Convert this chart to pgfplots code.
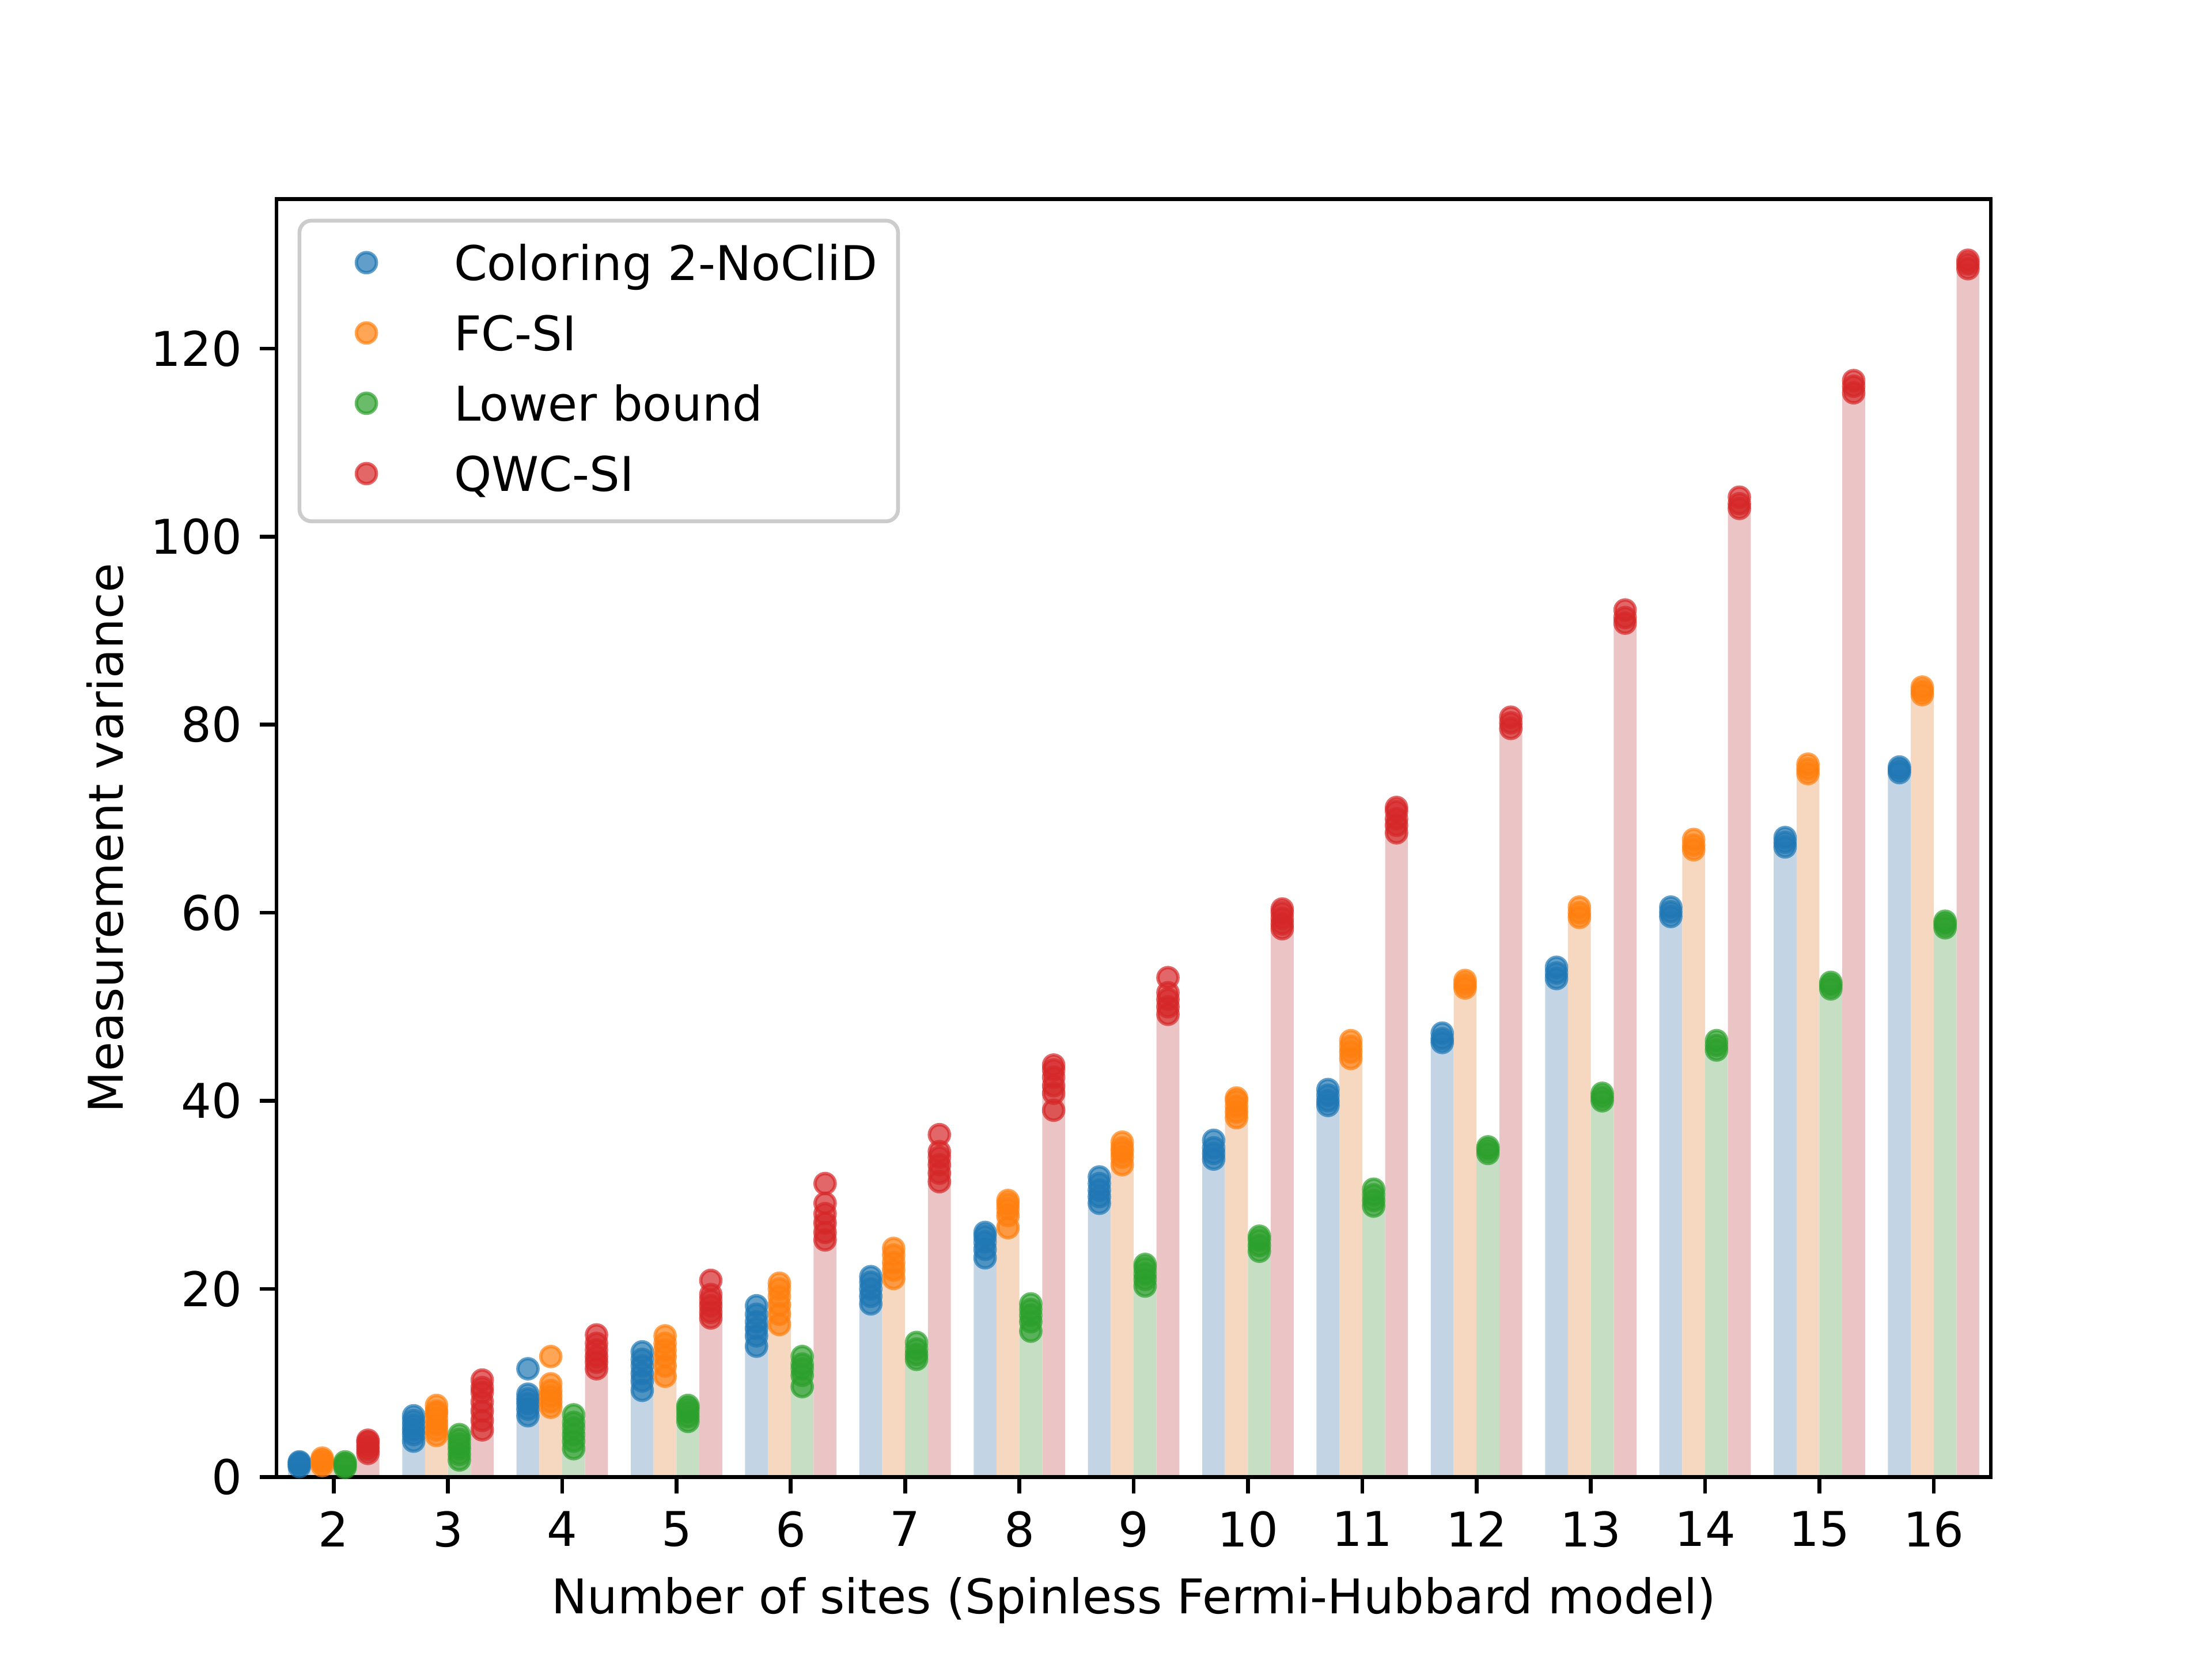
\documentclass[border=0pt]{standalone}
\usepackage{pgfplots}
\pgfplotsset{compat=1.18}
\usepackage{pgfplotstable}
\usepackage{fontspec}
\setmainfont{DejaVu Sans}
\definecolor{tabblue}{HTML}{1F77B4}
\definecolor{taborange}{HTML}{FF7F0E}
\definecolor{tabgreen}{HTML}{2CA02C}
\definecolor{tabred}{HTML}{D62728}
\definecolor{barblue}{HTML}{C3D5E4}
\definecolor{barorange}{HTML}{F6D8C0}
\definecolor{bargreen}{HTML}{C5DEC4}
\definecolor{barred}{HTML}{EBC5C5}

% bar heights (mean of trials)
\pgfplotstableread{
n blue orange green red
2 1.4 1.6 1.3 3.3
3 5.2 6.1 3.2 7.8
4 8.35 9.3 4.8 13.2
5 11.3 13.0 6.8 18.6
6 16.1 18.6 11.3 27.8
7 19.9 22.8 13.4 33.7
8 24.8 28.2 17.1 41.8
9 30.5 34.5 21.5 50.9
10 34.75 39.3 24.9 59.4
11 40.3 45.5 29.7 70.0
12 46.7 52.4 34.8 80.2
13 53.6 60.0 40.4 91.5
14 60.1 67.2 45.9 103.6
15 67.5 75.3 52.3 116.0
16 75.2 83.6 58.8 129.0
}\bars

\pgfplotstableread{
n v
2 1.1
2 1.3
2 1.5
2 1.6
3 3.8
3 4.5
3 5.0
3 5.5
3 6.0
3 6.5
4 6.5
4 7.2
4 7.8
4 8.3
4 8.8
4 11.5
5 9.2
5 10.2
5 11.0
5 11.8
5 12.5
5 13.3
6 13.9
6 15.0
6 15.8
6 16.5
6 17.3
6 18.2
7 18.4
7 19.2
7 20.0
7 20.7
7 21.3
8 23.3
8 24.2
8 25.0
8 25.6
8 26.0
9 29.1
9 29.8
9 30.5
9 31.2
9 31.9
10 33.8
10 34.4
10 35.0
10 35.8
11 39.5
11 40.0
11 40.6
11 41.2
12 46.2
12 46.6
12 47.2
13 53.0
13 53.6
13 54.2
14 59.6
14 60.1
14 60.6
15 67.0
15 67.5
15 68.0
16 74.9
16 75.2
16 75.5
}\ptsblue

\pgfplotstableread{
n v
2 1.2
2 1.5
2 1.8
2 2.0
3 4.4
3 5.0
3 5.6
3 6.2
3 6.8
3 7.0
3 7.6
4 7.4
4 8.0
4 8.6
4 9.2
4 9.9
4 12.8
5 10.7
5 11.8
5 12.8
5 13.5
5 14.2
5 15.0
6 16.2
6 17.3
6 18.3
6 19.2
6 20.0
6 20.6
7 21.1
7 22.0
7 22.8
7 23.6
7 24.3
8 26.5
8 27.8
8 28.5
8 29.0
8 29.4
9 33.2
9 34.0
9 34.6
9 35.0
9 35.6
10 38.2
10 38.8
10 39.4
10 40.0
10 40.3
11 44.5
11 45.2
11 45.8
11 46.4
12 52.0
12 52.4
12 52.8
13 59.5
13 60.0
13 60.6
14 66.7
14 67.2
14 67.8
15 74.8
15 75.3
15 75.8
16 83.2
16 83.6
16 84.0
}\ptsorange

\pgfplotstableread{
n v
2 1.0
2 1.2
2 1.4
2 1.6
3 1.8
3 2.4
3 3.0
3 3.5
3 4.0
3 4.5
4 3.0
4 3.8
4 4.5
4 5.2
4 5.8
4 6.6
5 5.9
5 6.4
5 6.9
5 7.3
5 7.6
6 9.6
6 10.8
6 11.5
6 12.0
6 12.8
7 12.5
7 13.0
7 13.6
7 14.3
8 15.5
8 16.5
8 17.2
8 17.8
8 18.4
9 20.3
9 21.0
9 21.6
9 22.2
9 22.6
10 24.0
10 24.6
10 25.2
10 25.6
11 28.8
11 29.4
11 30.0
11 30.6
12 34.4
12 34.8
12 35.1
13 40.0
13 40.4
13 40.8
14 45.4
14 45.9
14 46.4
15 51.9
15 52.3
15 52.6
16 58.4
16 58.8
16 59.1
}\ptsgreen

\pgfplotstableread{
n v
2 2.5
2 2.9
2 3.3
2 3.7
2 3.9
3 5.0
3 6.0
3 7.0
3 8.0
3 9.0
3 9.5
3 10.3
4 11.5
4 12.2
4 12.8
4 13.5
4 14.2
4 15.1
5 16.9
5 17.5
5 18.2
5 18.8
5 19.4
5 20.9
6 25.2
6 26.0
6 27.0
6 28.0
6 29.1
6 31.2
7 31.4
7 32.3
7 33.2
7 34.0
7 34.6
7 36.4
8 39.0
8 40.8
8 41.6
8 42.5
8 43.3
8 43.8
9 49.2
9 50.0
9 50.8
9 51.5
9 53.1
10 58.3
10 58.8
10 59.4
10 60.0
10 60.4
11 68.5
11 69.3
11 70.0
11 70.8
11 71.2
12 79.6
12 80.2
12 80.8
13 90.8
13 91.4
13 92.2
14 103.0
14 103.5
14 104.2
15 115.3
15 116.0
15 116.6
16 128.5
16 129.0
16 129.4
}\ptsred

\pgfplotsset{
  pts/.style={only marks, mark=*, mark size=2.1pt, color=#1, line width=0.7pt,
    mark options={draw=#1, fill=#1, opacity=0.7}},
}

\begin{document}
\begin{tikzpicture}
\path[use as bounding box] (0,0) rectangle (6.4in,4.8in);
\begin{axis}[
  at={(0.8in,0.528in)}, anchor=south west,
  scale only axis, width=4.96in, height=3.696in,
  axis on top,
  xmin=1.5, xmax=16.5, ymin=0, ymax=135.9,
  xtick={2,3,...,16}, ytick={0,20,...,120},
  /pgf/number format/assume math mode=true,
  tick align=outside, major tick length=3.5pt,
  every tick/.style={black, line width=0.8pt},
  axis line style={line width=0.8pt},
  xtick pos=bottom, ytick pos=left,
  tick label style={font=\fontsize{10}{12}\selectfont, inner sep=0pt},
  xticklabel style={yshift=-3.5pt},
  yticklabel style={xshift=-3.5pt},
  label style={font=\fontsize{10}{12}\selectfont},
  xlabel={Number of sites (Spinless Fermi-Hubbard model)},
  ylabel={Measurement variance},
  xlabel style={inner sep=0pt, yshift=-6pt},
  ylabel style={inner sep=0pt, yshift=5.5pt},
  legend cell align=left,
  legend style={at={(0,1)}, anchor=north west, xshift=4.4pt, yshift=-4.1pt,
    draw=black!20, line width=0.8pt, rounded corners=2.5pt, fill=white, fill opacity=0.8, text opacity=1,
    inner xsep=4.3pt, inner ysep=4pt, row sep=3.95pt,
    font=\fontsize{10}{12}\selectfont,
    nodes={inner sep=0pt, text height=8.5pt, text depth=2.25pt}},
  legend image code/.code={
    \path[draw=none, fill=none] (0pt,0pt) rectangle (28pt,1pt);
    \draw[#1, draw=none] plot coordinates {(9.7pt,0.6pt)};
  },
]
% bars
\addplot[ybar, bar width=0.2, bar shift=0pt, draw=none, fill=barblue, forget plot] table[x expr=\thisrow{n}-0.3, y=blue] {\bars};
\addplot[ybar, bar width=0.2, bar shift=0pt, draw=none, fill=barorange, forget plot] table[x expr=\thisrow{n}-0.1, y=orange] {\bars};
\addplot[ybar, bar width=0.2, bar shift=0pt, draw=none, fill=bargreen, forget plot] table[x expr=\thisrow{n}+0.1, y=green] {\bars};
\addplot[ybar, bar width=0.2, bar shift=0pt, draw=none, fill=barred, forget plot] table[x expr=\thisrow{n}+0.3, y=red] {\bars};
% points
\addplot[pts=tabblue] table[x expr=\thisrow{n}-0.3, y=v] {\ptsblue};
\addlegendentry{Coloring 2-NoCliD}
\addplot[pts=taborange] table[x expr=\thisrow{n}-0.1, y=v] {\ptsorange};
\addlegendentry{FC-SI}
\addplot[pts=tabgreen] table[x expr=\thisrow{n}+0.1, y=v] {\ptsgreen};
\addlegendentry{Lower bound}
\addplot[pts=tabred] table[x expr=\thisrow{n}+0.3, y=v] {\ptsred};
\addlegendentry{QWC-SI}
\end{axis}
\end{tikzpicture}
\end{document}
